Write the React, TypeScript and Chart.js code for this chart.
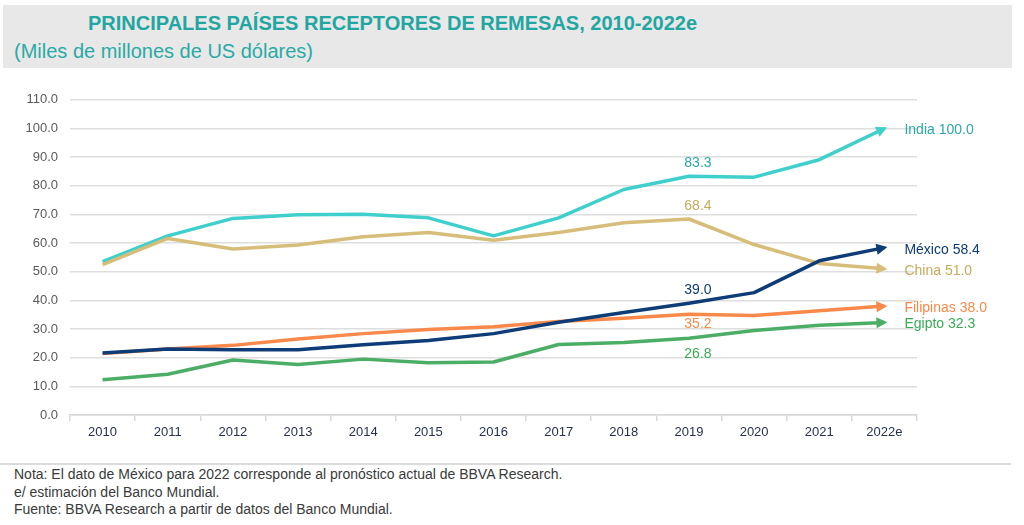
import React, { useEffect, useRef } from "react";
import { Chart, registerables } from "chart.js";
Chart.register(...registerables);

const years = ["2010", "2011", "2012", "2013", "2014", "2015", "2016", "2017", "2018", "2019", "2020", "2021", "2022e"];
const india = [53.5, 62.5, 68.6, 69.9, 70.1, 68.8, 62.5, 68.8, 78.7, 83.3, 83.0, 89.1, 100.0];
const china = [52.5, 61.6, 57.9, 59.3, 62.2, 63.7, 61.0, 63.7, 67.1, 68.4, 59.5, 52.9, 51.0];
const mexico = [21.6, 23.0, 22.8, 22.8, 24.5, 26.0, 28.4, 32.4, 35.8, 39.0, 42.7, 53.8, 58.4];
const filipinas = [21.5, 23.0, 24.3, 26.5, 28.4, 29.8, 30.8, 32.6, 33.8, 35.2, 34.7, 36.4, 38.0];
const egipto = [12.3, 14.2, 19.2, 17.6, 19.5, 18.2, 18.5, 24.6, 25.3, 26.8, 29.5, 31.3, 32.3];
const yTicks = [0, 10, 20, 30, 40, 50, 60, 70, 80, 90, 100, 110];
const highlightYear = "2019";

const FONT = "'Liberation Sans', Arial, sans-serif";

type Series = {
  name: string;
  data: number[];
  color: string;
  labelColor: string;
  above: boolean;
};

const series: Series[] = [
  { name: "México", data: mexico, color: "#0d3c76", labelColor: "#0d3c76", above: true },
  { name: "China", data: china, color: "#d6be7a", labelColor: "#c9aa5c", above: true },
  { name: "India", data: india, color: "#3fcfcc", labelColor: "#2aa9a6", above: true },
  { name: "Filipinas", data: filipinas, color: "#f8894a", labelColor: "#f8894a", above: false },
  { name: "Egipto", data: egipto, color: "#4cae66", labelColor: "#3aab55", above: false },
];

const labelPlugin = {
  id: "endLabels",
  afterDatasetsDraw(chart: any) {
    const ctx = chart.ctx as CanvasRenderingContext2D;
    ctx.save();
    const hi = years.indexOf(highlightYear);
    series.forEach((s, i) => {
      const pts = chart.getDatasetMeta(i).data;
      const last = pts[pts.length - 1];
      const prev = pts[pts.length - 2];
      const dx = last.x - prev.x;
      const dy = last.y - prev.y;
      const len = Math.hypot(dx, dy);
      const ux = dx / len;
      const uy = dy / len;
      const tipX = last.x + ux * 3;
      const tipY = last.y + uy * 3;
      const L = 11;
      const W = 5.5;
      const bx = tipX - ux * L;
      const by = tipY - uy * L;
      ctx.fillStyle = s.color;
      ctx.beginPath();
      ctx.moveTo(tipX, tipY);
      ctx.lineTo(bx - uy * W, by + ux * W);
      ctx.lineTo(bx + uy * W, by - ux * W);
      ctx.closePath();
      ctx.fill();

      ctx.font = `14px ${FONT}`;
      ctx.textBaseline = "middle";
      ctx.textAlign = "left";
      ctx.fillStyle = s.labelColor;
      const v = s.data[s.data.length - 1];
      ctx.fillText(`${s.name} ${v.toFixed(1)}`, last.x + 20, last.y + 2);

      const p = pts[hi];
      ctx.textAlign = "center";
      const off = s.above ? -13 : s.name === "Egipto" ? 16 : 10;
      ctx.fillText(s.data[hi].toFixed(1), p.x + 9, p.y + off);
    });
    ctx.restore();
  },
};

export default function App() {
  const ref = useRef<HTMLCanvasElement>(null);
  useEffect(() => {
    if (!ref.current) return;
    const chart = new Chart(ref.current, {
      type: "line",
      data: {
        labels: years,
        datasets: series.map((s) => ({
          label: s.name,
          data: s.data,
          borderColor: s.color,
          backgroundColor: s.color,
          borderWidth: 3.5,
          pointRadius: 0,
          tension: 0,
          fill: false,
          borderCapStyle: "butt" as const,
          borderJoinStyle: "round" as const,
        })),
      },
      options: {
        animation: false,
        responsive: false,
        maintainAspectRatio: false,
        layout: { padding: { top: 17, right: 107, left: 0, bottom: 0 } },
        plugins: { legend: { display: false }, tooltip: { enabled: false } },
        scales: {
          x: {
            offset: true,
            grid: {
              display: true,
              offset: true,
              drawOnChartArea: false,
              drawTicks: true,
              tickLength: 6,
              color: "#d9d9d9",
              lineWidth: 1.5,
            },
            border: { display: true, color: "#d9d9d9", width: 1.5 },
            ticks: {
              color: "#26324d",
              font: { family: FONT, size: 13 },
              padding: 4,
              maxRotation: 0,
              autoSkip: false,
            },
            afterFit: (scale: any) => {
              scale.height = 30;
            },
          },
          y: {
            min: 0,
            max: 110,
            afterBuildTicks: (scale: any) => {
              scale.ticks = yTicks.map((v) => ({ value: v }));
            },
            grid: { color: "#dedede", lineWidth: 1.5, drawTicks: false },
            border: { display: false },
            ticks: {
              color: "#5a5a5a",
              font: { family: FONT, size: 13 },
              padding: 12,
              callback: (v: any) => Number(v).toFixed(1),
            },
            afterFit: (scale: any) => {
              scale.width = 70;
            },
          },
        },
      },
      plugins: [labelPlugin],
    });
    return () => chart.destroy();
  }, []);

  return (
    <div style={{ position: "absolute", left: 0, top: 0, width: 1024, height: 525, background: "#fff", fontFamily: FONT, overflow: "hidden" }}>
      <div style={{ position: "absolute", left: 3, top: 5, width: 1009, height: 63, background: "#e8e8e8" }} />
      <div style={{ position: "absolute", left: 88, top: 11.5, fontSize: 20, fontWeight: 700, color: "#22a6a2", whiteSpace: "nowrap", lineHeight: "22px" }}>
        PRINCIPALES PAÍSES RECEPTORES DE REMESAS, 2010-2022e
      </div>
      <div style={{ position: "absolute", left: 14, top: 39.5, fontSize: 20, color: "#2aaaa6", whiteSpace: "nowrap", lineHeight: "22px" }}>
        (Miles de millones de US dólares)
      </div>
      <canvas ref={ref} width={1024} height={365} style={{ position: "absolute", left: 0, top: 80, width: 1024, height: 365 }} />
      <div style={{ position: "absolute", left: 0, top: 463, width: 1011, height: 2, background: "#dcdcdc" }} />
      <div style={{ position: "absolute", left: 14, top: 466, fontSize: 14, color: "#3a3a3a", lineHeight: "17.5px", whiteSpace: "nowrap" }}>
        <div>Nota: El dato de México para 2022 corresponde al pronóstico actual de BBVA Research.</div>
        <div>e/ estimación del Banco Mundial.</div>
        <div>Fuente: BBVA Research a partir de datos del Banco Mundial.</div>
      </div>
    </div>
  );
}
